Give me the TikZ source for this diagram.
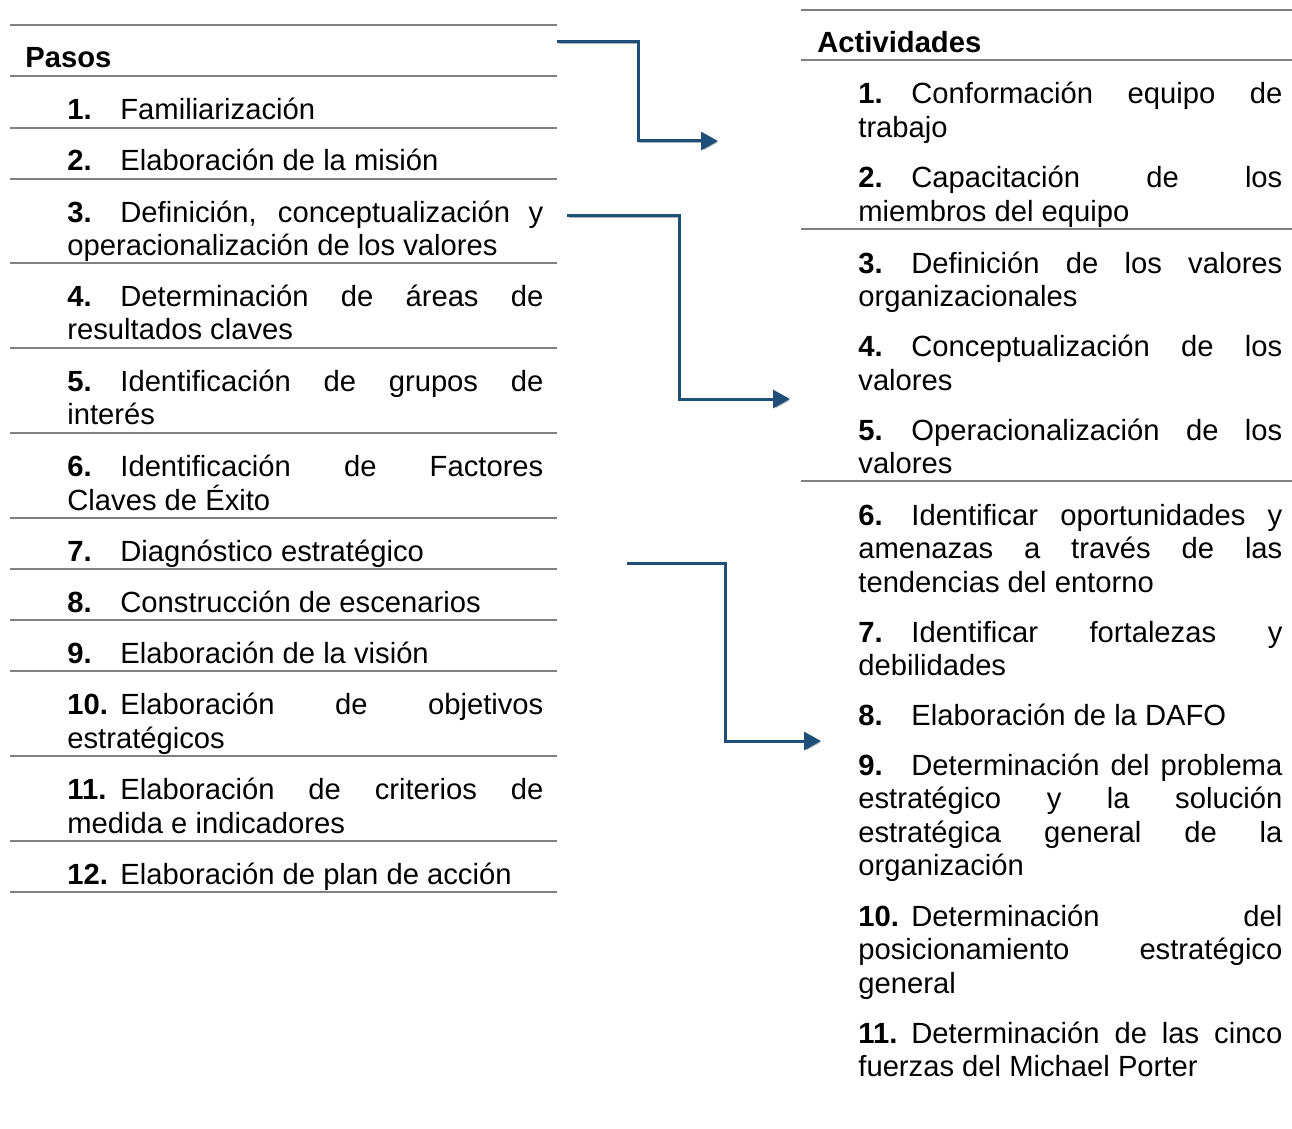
\documentclass[tikz,border=0pt]{standalone}
\usepackage{fontspec}
\setmainfont{Liberation Sans}
\usetikzlibrary{arrows.meta}
\definecolor{azul}{HTML}{1F4E79}
\definecolor{gris}{HTML}{808080}
\newcommand{\nro}[1]{\makebox[26.5pt][l]{\textbf{#1}}}
\tolerance=10000
\hyphenpenalty=10000
\begin{document}
\begin{tikzpicture}
		[x=0.5pt,y=-0.5pt,
		texto/.style={inner sep=0pt,anchor=base west,align=justify,
font=\fontsize{14.6}{16.75}\selectfont},
		paso/.style={texto,text width=238pt},
		actividad/.style={texto,text width=212pt},
		regla/.style={draw=gris,line width=0.75pt},
		flecha/.style={draw=azul,line width=1.5pt,-{Triangle[length=8.5pt,width=9pt]},
preaction={draw=gray!60,transform canvas={shift={(0.8pt,-0.8pt)}}}}]
		\useasboundingbox (0,0) rectangle (1292,1129);
		% rayas de las dos columnas
		\foreach \y in {25,76,128,179,263,348,433,518,569,620,671,756,841,892}
			\draw[regla] (10,\y) -- (557,\y);
		\foreach \y in {10,60,229,481}
			\draw[regla] (801,\y) -- (1292,\y);
		% pasos
		\node at (25,68) (pasos) [texto] {\textbf{Pasos}};
		\node at (67,119.5) (p1) [paso] {\nro{1.}Familiarización};
		\node at (67,171) (p2) [paso] {\nro{2.}Elaboración de la misión};
		\node at (67,222.5) (p3) [paso] {\nro{3.}Definición, conceptualización y\linebreak operacionalización de los valores};
		\node at (67,306.5) (p4) [paso] {\nro{4.}Determinación de áreas de\linebreak resultados claves};
		\node at (67,391.5) (p5) [paso] {\nro{5.}Identificación de grupos de\linebreak interés};
		\node at (67,476.5) (p6) [paso] {\nro{6.}Identificación de Factores\linebreak Claves de Éxito};
		\node at (67,561.5) (p7) [paso] {\nro{7.}Diagnóstico estratégico};
		\node at (67,612.5) (p8) [paso] {\nro{8.}Construcción de escenarios};
		\node at (67,663.5) (p9) [paso] {\nro{9.}Elaboración de la visión};
		\node at (67,714.5) (p10) [paso] {\nro{10.}Elaboración de objetivos\linebreak estratégicos};
		\node at (67,799.5) (p11) [paso] {\nro{11.}Elaboración de criterios de\linebreak medida e indicadores};
		\node at (67,884.5) (p12) [paso] {\nro{12.}Elaboración de plan de acción};
		% actividades
		\node at (817,53) (actividades) [texto] {\textbf{Actividades}};
		\node at (858,104) (a1) [actividad] {\nro{1.}Conformación equipo de\linebreak trabajo};
		\node at (858,188) (a2) [actividad] {\nro{2.}Capacitación de los\linebreak miembros del equipo};
		\node at (858,273) (a3) [actividad] {\nro{3.}Definición de los valores\linebreak organizacionales};
		\node at (858,357) (a4) [actividad] {\nro{4.}Conceptualización de los\linebreak valores};
		\node at (858,440) (a5) [actividad] {\nro{5.}Operacionalización de los\linebreak valores};
		\node at (858,525) (a6) [actividad] {\nro{6.}Identificar oportunidades y\linebreak amenazas a través de las\linebreak tendencias del entorno};
		\node at (858,642) (a7) [actividad] {\nro{7.}Identificar fortalezas y\linebreak debilidades};
		\node at (858,725) (a8) [actividad] {\nro{8.}Elaboración de la DAFO};
		\node at (858,775) (a9) [actividad] {\nro{9.}Determinación del problema\linebreak estratégico y la solución\linebreak estratégica general de la\linebreak organización};
		\node at (858,926) (a10) [actividad] {\nro{10.}Determinación del\linebreak posicionamiento estratégico\linebreak general};
		\node at (858,1043) (a11) [actividad] {\nro{11.}Determinación de las cinco\linebreak fuerzas del Michael Porter};
		% flechas
		\coordinate (f1a) at (557,42);
		\coordinate (f1b) at (718,141);
		\coordinate (f2a) at (567,216);
		\coordinate (f2b) at (790,399);
		\coordinate (f3a) at (627,563);
		\coordinate (f3b) at (821,741);
		\draw[flecha] (f1a) -- ++(81,0) |- (f1b);
		\draw[flecha] (f2a) -- ++(112,0) |- (f2b);
		\draw[flecha] (f3a) -- ++(98,0) |- (f3b);
	\end{tikzpicture}
\end{document}
